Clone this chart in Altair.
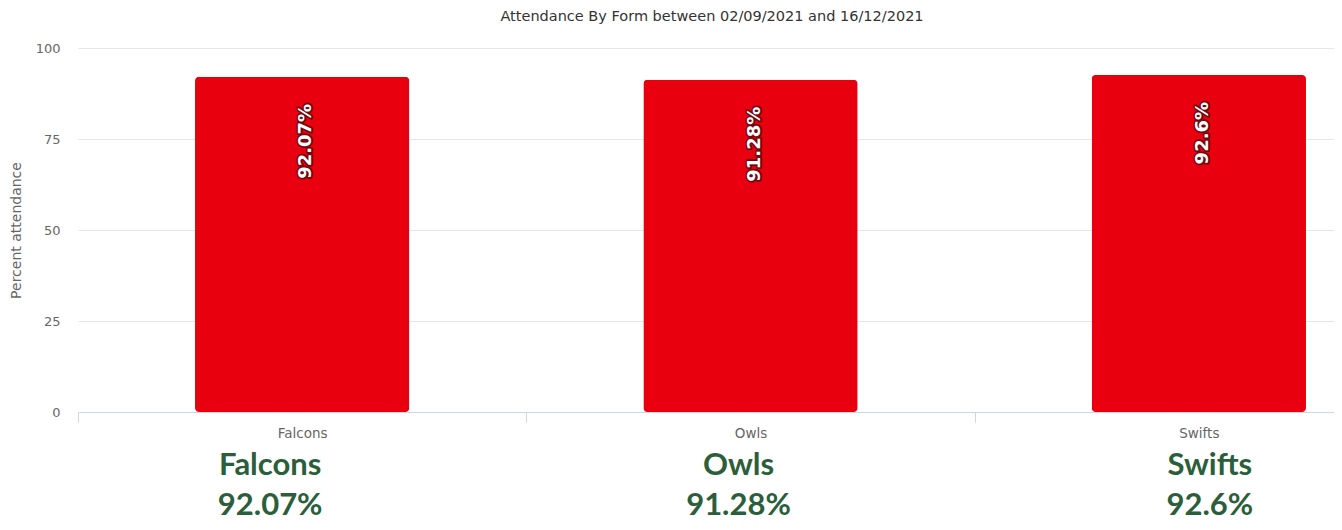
import altair as alt
import pandas as pd

categories = ["Falcons", "Owls", "Swifts"]
values = [92.07, 91.28, 92.6]
y_ticks = [0, 25, 50, 75, 100]
title_text = "Attendance By Form between 02/09/2021 and 16/12/2021"

df = pd.DataFrame({"category": categories, "value": values})

RED = "#e8000e"
GREEN = "#2b5e3a"
FONT = "DejaVu Sans"

xenc = alt.X(
    "category:N",
    sort=categories,
    scale=alt.Scale(range=[0, 1345], paddingInner=0, paddingOuter=0),
    axis=alt.Axis(
        title=None,
        labelAngle=0,
        labelColor="#666666",
        labelFontSize=13.5,
        labelFont=FONT,
        labelPadding=4,
        domainColor="#ccd6eb",
        domainWidth=1,
        tickColor="#ccd6eb",
        tickSize=10,
        tickBand="extent",
        grid=False,
    ),
)

yenc = alt.Y(
    "value:Q",
    scale=alt.Scale(domain=[0, 100], nice=False),
    axis=alt.Axis(
        values=y_ticks,
        title="Percent attendance",
        titleX=-62,
        titleY=182,
        titleAngle=270,
        titleAlign="center",
        titleBaseline="middle",
        titleFontWeight="normal",
        titleColor="#666666",
        titleFontSize=14,
        titleFont=FONT,
        labelColor="#666666",
        labelFontSize=13,
        labelFont=FONT,
        labelPadding=18,
        ticks=False,
        domain=False,
        gridColor="#e6e6e6",
        gridWidth=1,
    ),
)

base = alt.Chart(df)

bars = base.mark_bar(color=RED, cornerRadius=4, width=alt.RelativeBandSize(0.478)).encode(
    x=xenc, y=yenc
)

label_common = dict(
    angle=270,
    align="right",
    baseline="middle",
    dx=-27,
    dy=4,
    font=FONT,
    fontSize=18,
    fontWeight="bold",
)

shadow = base.transform_calculate(lbl="datum.value + '%'").mark_text(
    fill="#111111", stroke="#111111", strokeWidth=3.5, opacity=0.55, strokeJoin="round", **label_common
).encode(x=alt.X("category:N", sort=categories), y="value:Q", text="lbl:N")

labels = base.transform_calculate(lbl="datum.value + '%'").mark_text(
    fill="white", **label_common
).encode(x=alt.X("category:N", sort=categories), y="value:Q", text="lbl:N")

title = alt.Chart(pd.DataFrame({"t": [title_text]})).mark_text(
    font=FONT, fontSize=14.5, color="#333333", align="center", baseline="middle"
).encode(x=alt.value(634), y=alt.value(-31), text="t:N")

offsets = [-32, -12, 11]
bottoms = []
for cat, off in zip(categories, offsets):
    bottoms.append(
        base.transform_filter(alt.datum.category == cat)
        .transform_calculate(lines="[datum.category, datum.value + '%']")
        .mark_text(
            font="Lato",
            fontSize=31,
            fontWeight="bold",
            color=GREEN,
            align="center",
            baseline="alphabetic",
            lineHeight=40,
            dx=off,
        )
        .encode(x=alt.X("category:N", sort=categories), y=alt.value(427), text="lines:N")
    )

chart = alt.layer(bars, shadow, labels, title, *bottoms).properties(
    width=1256,
    height=364,
    autosize=alt.AutoSizeParams(type="none"),
    padding={"left": 70, "top": 40, "right": 0, "bottom": 110},
).configure_view(stroke=None)

chart.save("out.html", embed_options={"renderer": "svg", "actions": False})
